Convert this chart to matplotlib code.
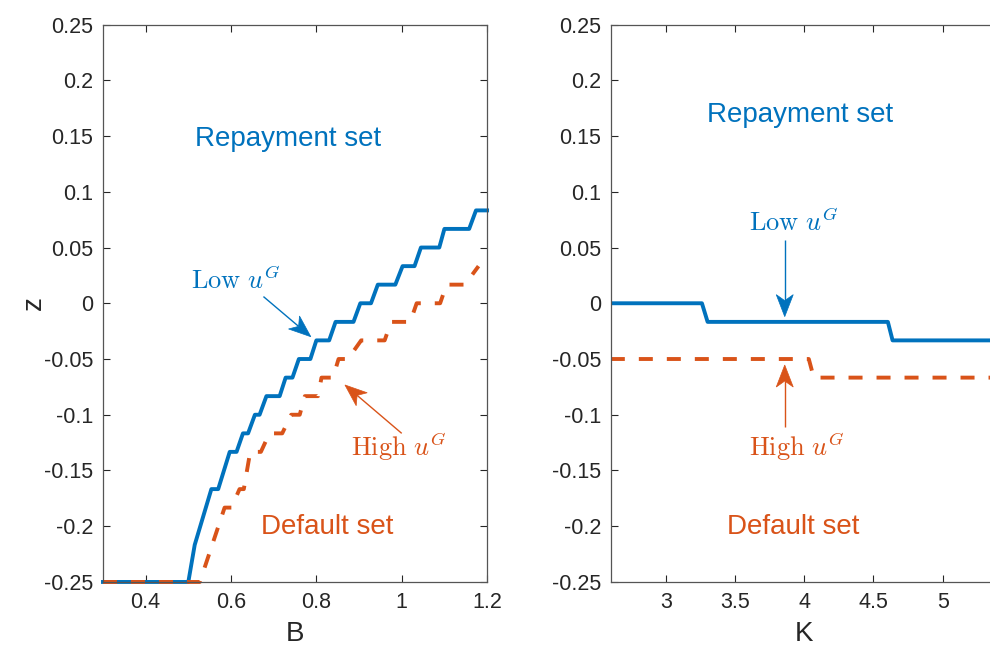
import numpy as np
import matplotlib
matplotlib.use('Agg')
import matplotlib.pyplot as plt
from matplotlib.patches import Polygon

plt.rcParams['font.family'] = ['Liberation Sans', 'DejaVu Sans']
plt.rcParams['mathtext.fontset'] = 'cm'
plt.rcParams['axes.unicode_minus'] = False

# default thresholds as a function of debt B
B_low = [0.30, 0.50, 0.515, 0.554, 0.570, 0.597, 0.613, 0.628, 0.640, 0.656, 0.667,
         0.683, 0.714, 0.728, 0.744, 0.759, 0.786, 0.800, 0.830, 0.845, 0.887, 0.903,
         0.928, 0.944, 0.985, 1.002, 1.030, 1.045, 1.088, 1.100, 1.158, 1.174, 1.200]
z_low = [-0.25, -0.25, -0.2167, -0.1667, -0.1667, -0.1333, -0.1333, -0.1167, -0.1167,
         -0.1, -0.1, -0.0833, -0.0833, -0.0667, -0.0667, -0.05, -0.05, -0.0333, -0.0333,
         -0.0167, -0.0167, 0.0, 0.0, 0.0167, 0.0167, 0.0333, 0.0333, 0.05, 0.05,
         0.0667, 0.0667, 0.0833, 0.0833]
B_high = [0.30, 0.527, 0.585, 0.601, 0.620, 0.630, 0.645, 0.670, 0.690, 0.720, 0.741,
          0.761, 0.773, 0.804, 0.812, 0.839, 0.852, 0.874, 0.905, 0.960, 0.975, 1.020,
          1.035, 1.090, 1.105, 1.148, 1.180]
z_high = [-0.25, -0.25, -0.1833, -0.1833, -0.1667, -0.1667, -0.1333, -0.1333, -0.1167,
          -0.1167, -0.1, -0.1, -0.0833, -0.0833, -0.0667, -0.0667, -0.05, -0.05,
          -0.0333, -0.0333, -0.0167, -0.0167, 0.0, 0.0, 0.0167, 0.0167, 0.0333]

# default thresholds as a function of capital K
K_low = [2.6, 3.259, 3.30, 4.604, 4.638, 5.4]
zK_low = [0.0, 0.0, -0.0167, -0.0167, -0.0333, -0.0333]
K_high = [2.6, 4.032, 4.068, 5.4]
zK_high = [-0.05, -0.05, -0.0667, -0.0667]

yticks = [-0.25, -0.2, -0.15, -0.1, -0.05, 0, 0.05, 0.1, 0.15, 0.2, 0.25]
ytick_labels = ['-0.25', '-0.2', '-0.15', '-0.1', '-0.05', '0', '0.05', '0.1', '0.15', '0.2', '0.25']
Bticks = [0.4, 0.6, 0.8, 1.0, 1.2]
Btick_labels = ['0.4', '0.6', '0.8', '1', '1.2']
Kticks = [3, 3.5, 4, 4.5, 5]
Ktick_labels = ['3', '3.5', '4', '4.5', '5']

blue = '#0072BD'
orange = '#D95319'
axcol = '#262626'

fig = plt.figure(figsize=(9.9, 6.55), dpi=100)
ax1 = fig.add_axes([0.104, 0.1115, 0.388, 0.851])
ax2 = fig.add_axes([0.617, 0.1115, 0.391, 0.851])


def style(ax, xlim, xt, xtl):
    ax.set_xlim(xlim)
    ax.set_ylim(-0.25, 0.25)
    ax.set_xticks(xt)
    ax.set_xticklabels(xtl)
    ax.set_yticks(yticks)
    ax.set_yticklabels(ytick_labels)
    ax.tick_params(direction='in', top=True, right=True, length=5, width=0.8,
                   colors=axcol, labelsize=15.5, pad=7)
    for s in ax.spines.values():
        s.set_color('#555555')
        s.set_linewidth(0.9)


def arrow(ax, tail, tip, col, L=22.0, W=8.5, notch=6.0):
    # thin shaft with a swept-back head, built in pixel space
    tr = ax.transData
    p0 = tr.transform(tail)
    p1 = tr.transform(tip)
    u = (p1 - p0) / np.hypot(*(p1 - p0))
    n = np.array([-u[1], u[0]])
    back = p1 - (L - notch) * u
    head = np.array([p1, p1 - L * u + W * n, back, p1 - L * u - W * n])
    head = tr.inverted().transform(head)
    shaft = tr.inverted().transform(np.array([p0, back]))
    ax.plot(shaft[:, 0], shaft[:, 1], color=col, lw=1.0, solid_capstyle='butt')
    ax.add_patch(Polygon(head, closed=True, facecolor=col, edgecolor=col, lw=0.5))


style(ax1, (0.3, 1.2), Bticks, Btick_labels)
ax1.plot(B_low, z_low, color=blue, lw=2.8, clip_on=False)
ax1.plot(B_high, z_high, color=orange, lw=2.8, dashes=(3.6, 3.6), clip_on=False)
ax1.set_xlabel('B', fontsize=20, color=axcol, labelpad=6)
ax1.set_ylabel('z', fontsize=20, color=axcol, labelpad=-2)
ax1.text(0.733, 0.1475, 'Repayment set', color=blue, fontsize=20, ha='center', va='center')
ax1.text(0.826, -0.201, 'Default set', color=orange, fontsize=20, ha='center', va='center')
ax1.text(0.612, 0.021, r'$\mathrm{Low}\ u^G$', color=blue, fontsize=19, ha='center', va='center')
ax1.text(0.994, -0.128, r'$\mathrm{High}\ u^G$', color=orange, fontsize=19, ha='center', va='center')
arrow(ax1, (0.676, 0.006), (0.787, -0.030), blue)
arrow(ax1, (1.0, -0.1167), (0.867, -0.0733), orange)

style(ax2, (2.6, 5.4), Kticks, Ktick_labels)
ax2.plot(K_low, zK_low, color=blue, lw=2.8)
ax2.plot(K_high, zK_high, color=orange, lw=2.8, dashes=(3.6, 3.6))
ax2.set_xlabel('K', fontsize=20, color=axcol, labelpad=6)
ax2.text(3.97, 0.169, 'Repayment set', color=blue, fontsize=20, ha='center', va='center')
ax2.text(3.917, -0.201, 'Default set', color=orange, fontsize=20, ha='center', va='center')
ax2.text(3.923, 0.0725, r'$\mathrm{Low}\ u^G$', color=blue, fontsize=19, ha='center', va='center')
ax2.text(3.948, -0.128, r'$\mathrm{High}\ u^G$', color=orange, fontsize=19, ha='center', va='center')
arrow(ax2, (3.858, 0.0568), (3.858, -0.012), blue)
arrow(ax2, (3.858, -0.111), (3.858, -0.0554), orange)

plt.savefig('out.png', dpi=100)
plt.close()
